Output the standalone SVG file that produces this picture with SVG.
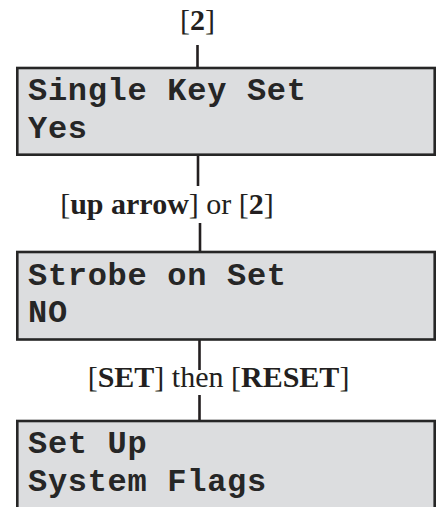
<svg xmlns="http://www.w3.org/2000/svg" width="441" height="507" viewBox="0 0 441 507">
<style>
.box{fill:#dcdddf;stroke:#262626;stroke-width:2.6}
.mono{font-family:"Liberation Mono","Courier New",monospace;font-weight:bold;font-size:32px;fill:#262626;letter-spacing:0.7px}
.lbl{font-family:"Liberation Serif","Times New Roman",serif;font-size:30px;fill:#231f20;text-anchor:middle}
.b{font-weight:bold}
.conn{stroke:#231f20;stroke-width:2.6;fill:none}
</style>
<rect width="441" height="507" fill="#ffffff"/>
<g id="connectors">
<line class="conn" x1="197.5" y1="45" x2="197.5" y2="68"/>
<line class="conn" x1="198" y1="155" x2="198" y2="186"/>
<line class="conn" x1="200" y1="223" x2="200" y2="252"/>
<line class="conn" x1="199.5" y1="340" x2="199.5" y2="370"/>
<line class="conn" x1="199.5" y1="395" x2="199.5" y2="421"/>
</g>
<g id="label-top">
<text class="lbl" x="197.5" y="30">[<tspan class="b">2</tspan>]</text>
</g>
<g id="label-mid">
<text class="lbl" x="167" y="214">[<tspan class="b">up arrow</tspan>] or [<tspan class="b">2</tspan>]</text>
</g>
<g id="label-bottom">
<text class="lbl" x="218.5" y="387">[<tspan class="b">SET</tspan>] then [<tspan class="b">RESET</tspan>]</text>
</g>
<g id="node-single-key-set">
<rect class="box" x="17.3" y="68" width="417.4" height="86.7"/>
<text class="mono" x="28" y="100" xml:space="preserve">Single Key Set</text>
<text class="mono" x="28" y="138">Yes</text>
</g>
<g id="node-strobe-on-set">
<rect class="box" x="17.3" y="252" width="417.4" height="87.5"/>
<text class="mono" x="28" y="285" xml:space="preserve">Strobe on Set</text>
<text class="mono" x="28" y="322">NO</text>
</g>
<g id="node-set-up">
<rect class="box" x="17.3" y="421" width="417.4" height="110"/>
<text class="mono" x="28" y="453" xml:space="preserve">Set Up</text>
<text class="mono" x="28" y="491" xml:space="preserve">System Flags</text>
</g>
</svg>
